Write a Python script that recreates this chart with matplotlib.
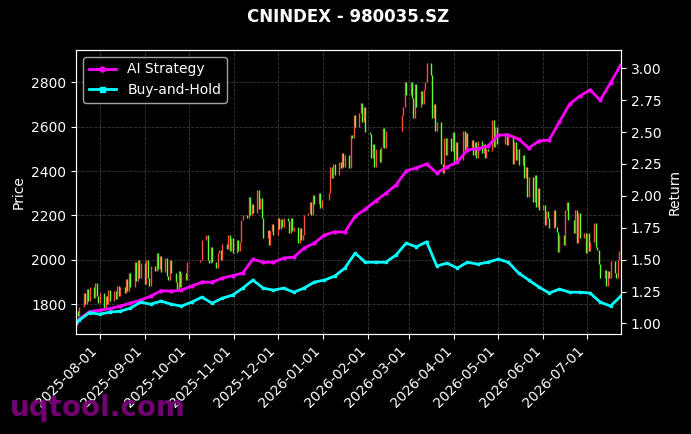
import matplotlib
matplotlib.use("Agg")
import matplotlib.dates as mdates
import matplotlib.pyplot as plt
import numpy as np
import pandas as pd
from matplotlib.ticker import FormatStrFormatter, MultipleLocator

# 交易日（剔除节假日）
holidays = ["2025-10-01", "2025-10-02", "2025-10-03", "2025-10-06", "2025-10-07", "2025-10-08",
            "2026-01-01", "2026-01-02",
            "2026-02-16", "2026-02-17", "2026-02-18", "2026-02-19", "2026-02-20", "2026-02-23",
            "2026-04-06", "2026-05-01", "2026-05-04", "2026-05-05", "2026-06-19"]
trade_dates = pd.bdate_range("2025-07-16", "2026-07-24", freq="C", holidays=holidays)

first_open = 1745
close = [
    # 2025-07
    1770, 1750, 1790, 1850, 1800, 1870, 1815, 1880, 1830, 1895, 1840, 1805,
    # 2025-08
    1850, 1780, 1840, 1800, 1865, 1815, 1860, 1825, 1885, 1840, 1880,
    1850, 1915, 1860, 1940, 1880, 1990, 1905, 2000, 1920, 1985,
    # 2025-09
    1890, 2000, 1920, 1885, 1975, 1950, 2030, 1960, 2020, 1945, 2010,
    1930, 1910, 2000, 1940, 1900, 1870, 1950, 1880, 1940, 1910, 1990,
    # 2025-10
    2000, 2090, 2110, 2000, 1985, 2060, 1990, 1965, 2030, 2045, 2000,
    2070, 2050, 2110, 2040, 2100, 2030,
    # 2025-11
    2090, 2040, 2080, 2180, 2200, 2190, 2285, 2200, 2250, 2210,
    2315, 2230, 2280, 2190, 2100, 2135, 2065, 2130, 2160, 2110,
    # 2025-12
    2190, 2140, 2185, 2150, 2190, 2175, 2120, 2190, 2130, 2150, 2075, 2145,
    2090, 2110, 2200, 2210, 2260, 2200, 2290, 2250, 2300, 2235, 2270,
    # 2026-01
    2300, 2420, 2370, 2430, 2380, 2440, 2415, 2480, 2420, 2470,
    2415, 2560, 2550, 2650, 2600, 2660, 2705, 2620, 2690, 2575,
    # 2026-02
    2565, 2460, 2520, 2420, 2500, 2440, 2510, 2595, 2505, 2580, 2650, 2690, 2800, 2740,
    # 2026-03
    2800, 2730, 2640, 2790, 2690, 2760, 2700, 2770, 2800, 2885, 2830,
    2640, 2700, 2580, 2620, 2430, 2390, 2550, 2470, 2550, 2490, 2575,
    # 2026-04
    2440, 2530, 2450, 2580, 2490, 2570, 2510, 2540, 2470, 2530, 2460,
    2535, 2480, 2520, 2460, 2500, 2490, 2630, 2510, 2600, 2520,
    # 2026-05
    2570, 2515, 2560, 2430, 2530, 2450, 2500, 2425, 2470,
    2370, 2420, 2285, 2375, 2260, 2380, 2240, 2325, 2225,
    # 2026-06
    2245, 2155, 2220, 2190, 2145, 2225, 2150, 2125, 2035, 2110, 2065,
    2225, 2260, 2180, 2120, 2225, 2075, 2210, 2100, 2120, 2030,
    # 2026-07
    2120, 2040, 2080, 2165, 2060, 2045, 1980, 1920, 1955,
    1885, 1950, 1920, 1995, 1940, 1920, 2000, 2040, 2090,
]

# 收益曲线（周频）
line_dates = pd.DatetimeIndex(["2025-07-16"]).append(
    pd.date_range("2025-07-18", "2026-07-24", freq="W-FRI"))
ai_return = [1.00, 1.034, 1.093, 1.104, 1.116, 1.136, 1.159, 1.183, 1.214, 1.257, 1.253,
             1.261, 1.293, 1.324, 1.324, 1.355, 1.375, 1.395, 1.504, 1.48, 1.48,
             1.512, 1.52, 1.59, 1.63, 1.693, 1.718, 1.716, 1.84, 1.896, 1.96,
             2.02, 2.085, 2.195, 2.22, 2.25, 2.18, 2.227, 2.265, 2.36, 2.37,
             2.39, 2.477, 2.477, 2.445, 2.375, 2.43, 2.438, 2.58, 2.72, 2.783,
             2.83, 2.75, 2.885, 3.026]
bh_return = [1.00, 1.026, 1.085, 1.073, 1.089, 1.096, 1.12, 1.167, 1.151, 1.175, 1.151,
             1.136, 1.167, 1.206, 1.159, 1.198, 1.222, 1.277, 1.34, 1.277, 1.261,
             1.277, 1.245, 1.277, 1.324, 1.34, 1.371, 1.434, 1.551, 1.48, 1.48,
             1.48, 1.536, 1.63, 1.60, 1.64, 1.45, 1.473, 1.434, 1.48, 1.465,
             1.48, 1.504, 1.48, 1.395, 1.34, 1.285, 1.238, 1.269, 1.245, 1.245,
             1.238, 1.167, 1.136, 1.214]

close = np.array(close, dtype=float)
opens = np.concatenate([[first_open], close[:-1]])
up = close >= opens

plt.style.use("dark_background")
fig, ax = plt.subplots(figsize=(6.91, 4.34), dpi=100)
fig.subplots_adjust(left=0.110, right=0.899, top=0.885, bottom=0.230)

# K线：红涨绿跌
ax.vlines(trade_dates, np.minimum(opens, close), np.maximum(opens, close),
          colors=np.where(up, "#ff4c40", "#5cff30"), linewidth=1.0)
ax.set_ylim(1666, 2945)
ax.set_ylabel("Price")
ax.grid(True, linestyle="--", color="gray", alpha=0.45, linewidth=0.6)

ax2 = ax.twinx()
ax2.plot(line_dates, ai_return, color="magenta", linewidth=2, marker="o", markersize=2, label="AI Strategy")
ax2.plot(line_dates, bh_return, color="cyan", linewidth=2, marker="s", markersize=2, label="Buy-and-Hold")
ax2.set_ylim(0.916, 3.144)
ax2.yaxis.set_major_locator(MultipleLocator(0.25))
ax2.yaxis.set_major_formatter(FormatStrFormatter("%.2f"))
ax2.set_ylabel("Return")

ax.set_xlim(pd.Timestamp("2025-07-15 18:00"), pd.Timestamp("2026-07-24 08:00"))
ax.xaxis.set_major_locator(mdates.MonthLocator())
ax.xaxis.set_major_formatter(mdates.DateFormatter("%Y-%m-%d"))
plt.setp(ax.get_xticklabels(), rotation=45, ha="right")

ax2.legend(loc="upper left", facecolor="black", edgecolor="#cccccc", markerscale=1.8)
ax.set_title("CNINDEX - 980035.SZ", fontsize=12, fontweight="bold", pad=20)

fig.text(0.0145, 0.041, "uqtool.com", color="purple", fontsize=20, fontweight="bold", alpha=0.9)

fig.savefig("out.png", dpi=100, facecolor="black")
